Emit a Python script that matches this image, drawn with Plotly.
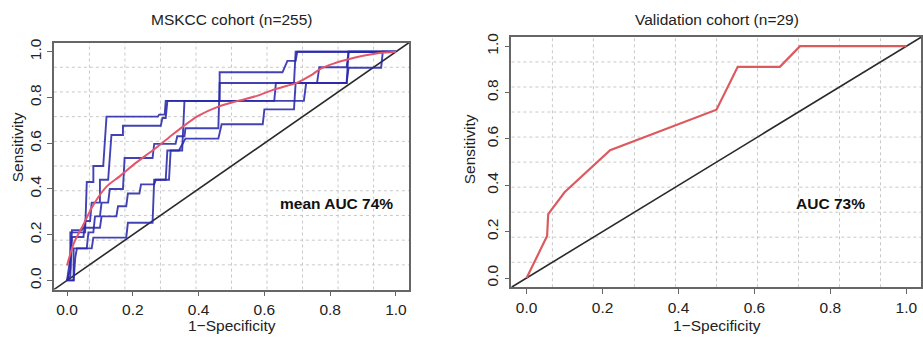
import plotly.graph_objects as go
import numpy as np

# ---------------- data ----------------
# Left panel: MSKCC cohort (n=255) - five fold ROC curves (1-Specificity, Sensitivity)
fold1_fpr = [0, 0.01, 0.01, 0.055, 0.06, 0.08, 0.08, 0.11, 0.12, 0.276, 0.28, 0.297, 0.30, 0.464, 0.464, 0.655, 0.67, 0.695, 0.70, 1.0]
fold1_tpr = [0, 0.05, 0.21, 0.21, 0.43, 0.43, 0.50, 0.50, 0.716, 0.716, 0.725, 0.725, 0.785, 0.785, 0.91, 0.91, 0.96, 0.96, 1.0, 1.0]

fold2_fpr = [0, 0.01, 0.015, 0.05, 0.055, 0.07, 0.075, 0.10, 0.10, 0.125, 0.135, 0.17, 0.17, 0.285, 0.29, 0.30, 0.305, 0.63, 0.635, 0.76, 0.767, 0.85, 0.856, 1.0]
fold2_tpr = [0, 0.02, 0.19, 0.19, 0.26, 0.26, 0.34, 0.34, 0.44, 0.44, 0.636, 0.636, 0.676, 0.676, 0.71, 0.71, 0.785, 0.785, 0.863, 0.863, 0.932, 0.932, 1.0, 1.0]

fold3_fpr = [0, 0.02, 0.02, 0.06, 0.065, 0.08, 0.085, 0.10, 0.105, 0.125, 0.13, 0.17, 0.175, 0.26, 0.265, 0.33, 0.335, 0.357, 0.36, 0.46, 0.464, 0.69, 0.695, 1.0]
fold3_tpr = [0, 0, 0.14, 0.14, 0.21, 0.21, 0.28, 0.28, 0.34, 0.34, 0.40, 0.40, 0.535, 0.535, 0.597, 0.597, 0.63, 0.63, 0.665, 0.665, 0.863, 0.863, 1.0, 1.0]

fold4_fpr = [0, 0.01, 0.015, 0.045, 0.05, 0.10, 0.105, 0.15, 0.155, 0.18, 0.185, 0.22, 0.225, 0.265, 0.27, 0.31, 0.315, 0.35, 0.357, 0.72, 0.727, 0.85, 0.856, 1.0]
fold4_tpr = [0, 0.10, 0.22, 0.22, 0.23, 0.23, 0.28, 0.28, 0.324, 0.324, 0.38, 0.38, 0.42, 0.42, 0.44, 0.44, 0.568, 0.568, 0.785, 0.785, 0.863, 0.863, 1.0, 1.0]

fold5_fpr = [0, 0.02, 0.025, 0.03, 0.075, 0.08, 0.18, 0.185, 0.26, 0.265, 0.30, 0.305, 0.34, 0.36, 0.46, 0.47, 0.595, 0.60, 0.69, 0.695, 0.85, 0.856, 0.955, 0.96, 1.0]
fold5_tpr = [0, 0, 0.10, 0.14, 0.14, 0.187, 0.187, 0.252, 0.252, 0.44, 0.44, 0.568, 0.568, 0.62, 0.62, 0.683, 0.683, 0.748, 0.748, 0.863, 0.863, 0.93, 0.93, 1.0, 1.0]

mean_fpr = [0, 0.02, 0.05, 0.08, 0.12, 0.16, 0.21, 0.26, 0.31, 0.35, 0.40, 0.46, 0.52, 0.58, 0.63, 0.70, 0.74, 0.77, 0.81, 0.85, 0.90, 0.95, 1.0]
mean_tpr = [0.065, 0.16, 0.245, 0.33, 0.41, 0.455, 0.515, 0.568, 0.625, 0.67, 0.72, 0.76, 0.785, 0.808, 0.835, 0.865, 0.895, 0.925, 0.948, 0.965, 0.982, 0.994, 1.0]

# Right panel: Validation cohort (n=29)
val_fpr = [0, 0.054, 0.057, 0.10, 0.22, 0.50, 0.556, 0.667, 0.72, 1.0]
val_tpr = [0, 0.181, 0.276, 0.37, 0.551, 0.726, 0.911, 0.911, 1.0, 1.0]

tick_vals = [0.0, 0.2, 0.4, 0.6, 0.8, 1.0]
tick_text = ["0.0", "0.2", "0.4", "0.6", "0.8", "1.0"]

titles = ["MSKCC cohort (n=255)", "Validation cohort (n=29)"]
auc_labels = ["mean AUC 74%", "AUC 73%"]
x_title = "1\u2212Specificity"
y_title = "Sensitivity"

# ---------------- style ----------------
W, H = 923, 337
AX_LO, AX_HI = -0.04, 1.04
FONT = "Liberation Sans, Arial, sans-serif"
FS = 15.5
TXT = "#222222"
FRAME = "#666666"
BLUE = "rgba(40,40,170,0.88)"
PINK = "#e4566a"
RED = "#dc5a5e"
GRID = "#c8c8c8"

def px_x(p):
    return p / W

def px_y(p):
    return 1 - p / H

fig = go.Figure()

folds = [(fold1_fpr, fold1_tpr), (fold2_fpr, fold2_tpr), (fold3_fpr, fold3_tpr),
         (fold4_fpr, fold4_tpr), (fold5_fpr, fold5_tpr)]

# reference diagonals
ref = [AX_LO, AX_HI]
fig.add_trace(go.Scatter(x=ref, y=ref, mode="lines", line=dict(color="#2a2a2a", width=1.6),
                         xaxis="x", yaxis="y", showlegend=False, hoverinfo="skip"))
fig.add_trace(go.Scatter(x=ref, y=ref, mode="lines", line=dict(color="#2a2a2a", width=1.6),
                         xaxis="x2", yaxis="y2", showlegend=False, hoverinfo="skip"))

for fx, fy in folds:
    fig.add_trace(go.Scatter(x=fx, y=fy, mode="lines", line=dict(color=BLUE, width=1.9),
                             xaxis="x", yaxis="y", showlegend=False))

fig.add_trace(go.Scatter(x=mean_fpr, y=mean_tpr, mode="lines",
                         line=dict(color=PINK, width=2, shape="spline", smoothing=0.8),
                         xaxis="x", yaxis="y", showlegend=False))

fig.add_trace(go.Scatter(x=val_fpr, y=val_tpr, mode="lines", line=dict(color=RED, width=2.2),
                         xaxis="x2", yaxis="y2", showlegend=False))

# dotted grid (10 x 10 cells over the plotting region, as in R's grid())
grid_pos = [AX_LO + (AX_HI - AX_LO) * k / 10 for k in range(1, 10)]
shapes = []
for xa, ya in [("x", "y"), ("x2", "y2")]:
    for g in grid_pos:
        shapes.append(dict(type="line", xref=xa, yref=ya, x0=g, x1=g, y0=AX_LO, y1=AX_HI,
                           line=dict(color=GRID, width=1, dash="dot"), layer="below"))
        shapes.append(dict(type="line", xref=xa, yref=ya, x0=AX_LO, x1=AX_HI, y0=g, y1=g,
                           line=dict(color=GRID, width=1, dash="dot"), layer="below"))

def axis(domain, rng, anchor, ytick=False):
    d = dict(domain=domain, range=rng, anchor=anchor, tickmode="array",
             tickvals=tick_vals, ticktext=tick_text, ticks="outside", ticklen=5,
             tickcolor=FRAME, tickwidth=1.2, showline=True, mirror=True,
             linecolor=FRAME, linewidth=1.5, showgrid=False, zeroline=False,
             tickfont=dict(family=FONT, size=FS, color=TXT), fixedrange=True)
    if ytick:
        d["tickangle"] = -90
    return d

right_hi = AX_LO + (923 - 512.5) / (908.3 - 527.7)

fig.update_layout(
    width=W, height=H,
    margin=dict(l=0, r=0, t=0, b=0),
    paper_bgcolor="white", plot_bgcolor="white",
    xaxis=axis([px_x(54), px_x(410)], [AX_LO, AX_HI], "y"),
    yaxis=axis([px_y(289), px_y(39)], [AX_LO, AX_HI], "x", ytick=True),
    xaxis2=axis([px_x(512.5), 1.0], [AX_LO, right_hi], "y2"),
    yaxis2=axis([px_y(286.7), px_y(33.3)], [AX_LO, AX_HI], "x2", ytick=True),
    shapes=shapes,
)

ann = []
# panel titles
for t, cx in zip(titles, [233, 719]):
    ann.append(dict(text=t, x=px_x(cx), y=px_y(16), xref="paper", yref="paper",
                    showarrow=False, xanchor="center", yanchor="middle",
                    font=dict(family=FONT, size=FS, color=TXT)))
# x titles
for cx in [233, 719]:
    ann.append(dict(text=x_title, x=px_x(cx), y=px_y(325), xref="paper", yref="paper",
                    showarrow=False, xanchor="center", yanchor="middle",
                    font=dict(family=FONT, size=FS, color=TXT)))
# y titles
for cx, cy in [(17, 145), (470, 147)]:
    ann.append(dict(text=y_title, x=px_x(cx), y=px_y(cy), xref="paper", yref="paper",
                    showarrow=False, xanchor="center", yanchor="middle", textangle=-90,
                    font=dict(family=FONT, size=FS, color=TXT)))
# AUC labels
ann.append(dict(text="<b>%s</b>" % auc_labels[0], x=0.82, y=0.338, xref="x", yref="y",
                showarrow=False, xanchor="center", yanchor="middle",
                font=dict(family=FONT, size=FS, color="#111111")))
ann.append(dict(text="<b>%s</b>" % auc_labels[1], x=0.80, y=0.323, xref="x2", yref="y2",
                showarrow=False, xanchor="center", yanchor="middle",
                font=dict(family=FONT, size=FS, color="#111111")))
fig.update_layout(annotations=ann)

fig.write_html("out.html", config={"displayModeBar": False},
               post_script="document.body.style.margin='0';document.body.style.overflow='hidden';")
